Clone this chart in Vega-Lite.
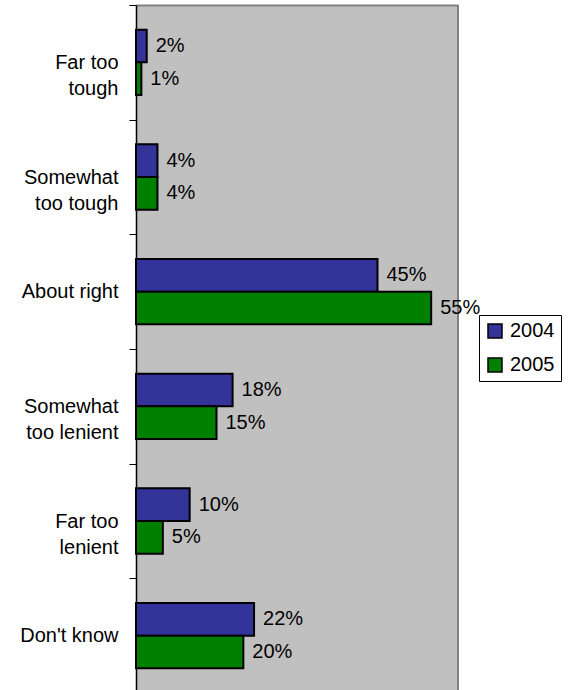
{
  "$schema": "https://vega.github.io/schema/vega-lite/v6.json",
  "width": 322,
  "height": 688,
  "autosize": "none",
  "padding": {"left": 136, "top": 5, "right": 113, "bottom": 0},
  "background": "white",
  "config": {
    "view": {"fill": "#C0C0C0", "stroke": null},
    "font": "Liberation Sans"
  },
  "data": {
    "values": [
      {"response": "Far too tough", "year": "2004", "pct": 0.02},
      {"response": "Far too tough", "year": "2005", "pct": 0.01},
      {"response": "Somewhat too tough", "year": "2004", "pct": 0.04},
      {"response": "Somewhat too tough", "year": "2005", "pct": 0.04},
      {"response": "About right", "year": "2004", "pct": 0.45},
      {"response": "About right", "year": "2005", "pct": 0.55},
      {"response": "Somewhat too lenient", "year": "2004", "pct": 0.18},
      {"response": "Somewhat too lenient", "year": "2005", "pct": 0.15},
      {"response": "Far too lenient", "year": "2004", "pct": 0.10},
      {"response": "Far too lenient", "year": "2005", "pct": 0.05},
      {"response": "Don't know", "year": "2004", "pct": 0.22},
      {"response": "Don't know", "year": "2005", "pct": 0.20}
    ]
  },
  "layer": [
    {
      "data": {"values": [{"edge": 0.6}]},
      "mark": {"type": "rule", "color": "#808080", "strokeWidth": 2},
      "encoding": {
        "x": {"field": "edge", "type": "quantitative", "scale": {"domain": [0, 0.6], "nice": false},
          "axis": {"orient": "top", "labels": false, "ticks": false, "grid": false, "title": null, "domainColor": "#808080", "domainWidth": 2}}
      }
    },
    {
      "mark": {"type": "bar", "stroke": "black", "strokeWidth": 2},
      "encoding": {
        "y": {
          "field": "response",
          "type": "nominal",
          "sort": ["Far too tough", "Somewhat too tough", "About right", "Somewhat too lenient", "Far too lenient", "Don't know"],
          "scale": {"paddingInner": 0, "paddingOuter": 0},
          "axis": {
            "title": null,
            "tickBand": "extent",
            "tickSize": 7,
            "tickColor": "black",
            "tickWidth": 1,
            "domainColor": "black",
            "domainWidth": 1.5,
            "labelFont": "Liberation Sans",
            "labelFontSize": 20,
            "labelColor": "black",
            "labelAlign": "right",
            "labelBaseline": "middle",
            "labelLineHeight": 26,
            "labelLimit": 0,
            "labelPadding": 11,
            "labelExpr": "split(replace(replace(replace(datum.label, 'Far too ', 'Far too|'), 'Somewhat ', 'Somewhat|'), 'tough', 'tough\u00a0'), '|')"
          }
        },
        "yOffset": {"field": "year", "type": "nominal", "scale": {"paddingInner": 0, "paddingOuter": 0.756}},
        "x": {"field": "pct", "type": "quantitative"},
        "fill": {
          "field": "year",
          "type": "nominal",
          "scale": {"domain": ["2004", "2005"], "range": ["#333399", "#008000"]},
          "legend": {
            "title": null,
            "orient": "none",
            "legendX": 343,
            "legendY": 310,
            "fillColor": "white",
            "strokeColor": "black",
            "padding": 6,
            "symbolType": "square",
            "symbolSize": 196,
            "symbolStrokeColor": "black",
            "symbolStrokeWidth": 1.5,
            "labelFont": "Liberation Sans",
            "labelFontSize": 20,
            "labelColor": "black",
            "labelOffset": 5,
            "rowPadding": 14
          }
        }
      }
    },
    {
      "mark": {"type": "text", "align": "left", "baseline": "middle", "dx": 9, "fontSize": 20, "color": "black", "font": "Liberation Sans"},
      "encoding": {
        "y": {"field": "response", "type": "nominal", "sort": ["Far too tough", "Somewhat too tough", "About right", "Somewhat too lenient", "Far too lenient", "Don't know"]},
        "yOffset": {"field": "year", "type": "nominal"},
        "x": {"field": "pct", "type": "quantitative"},
        "text": {"field": "pct", "type": "quantitative", "format": ".0%"}
      }
    }
  ]
}
